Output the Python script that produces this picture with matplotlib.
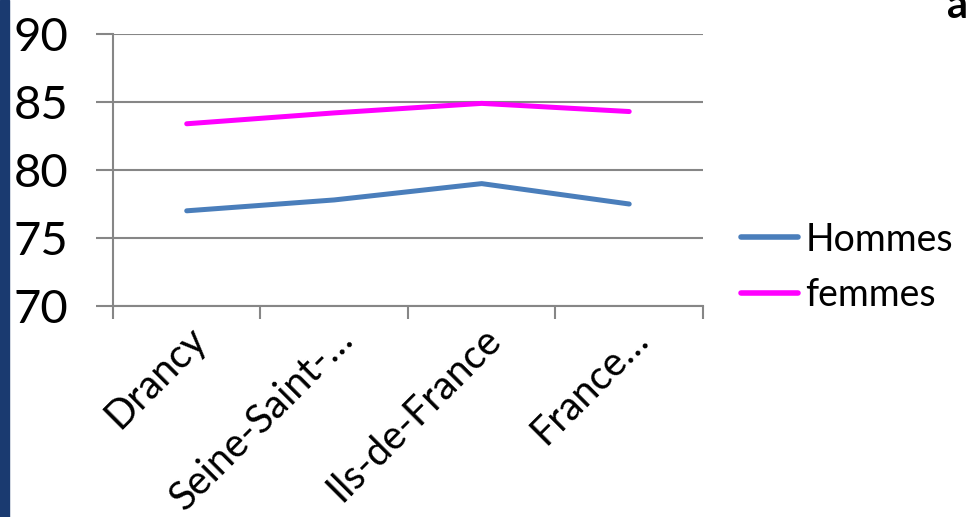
import matplotlib.pyplot as plt
from matplotlib.patches import Rectangle
import numpy as np

plt.rcParams['font.family'] = ['Lato', 'DejaVu Sans']

# data
categories = ['Drancy', 'Seine-Saint-…', 'Ils-de-France', 'France…']
hommes = [77.0, 77.8, 79.0, 77.5]
femmes = [83.4, 84.2, 84.9, 84.3]
yticks = [70, 75, 80, 85, 90]

grey = '#868686'

fig = plt.figure(figsize=(9.68, 5.17), dpi=100)
ax = fig.add_axes([0.1167, 0.4081, 0.6095, 0.5261])

x = np.arange(len(categories))
ax.plot(x, hommes, color='#4A7EBB', lw=3.6, solid_capstyle='round', label='Hommes')
ax.plot(x, femmes, color='#FF00FF', lw=3.6, solid_capstyle='round', label='femmes')

ax.set_xlim(-0.5, len(categories) - 0.5)
ax.set_ylim(70, 90)
ax.set_yticks(yticks)
ax.yaxis.grid(True, color=grey, lw=1.5)
ax.set_axisbelow(True)

# category labels in the middle, tick marks on the boundaries
ax.set_xticks(x)
ax.set_xticklabels(categories, rotation=45, ha='right', va='top',
                   rotation_mode='anchor', fontsize=28.5)
ax.set_xticks(np.arange(len(categories) + 1) - 0.5, minor=True)
ax.tick_params(axis='x', which='major', length=0, pad=10)
ax.tick_params(axis='x', which='minor', length=9, width=1.5, color=grey, direction='out')
ax.tick_params(axis='y', length=12, width=1.5, color=grey, pad=20, labelsize=34)

for s in ['top', 'right']:
    ax.spines[s].set_visible(False)
for s in ['left', 'bottom']:
    ax.spines[s].set_color(grey)
    ax.spines[s].set_linewidth(1.5)

leg = ax.legend(loc='center left', bbox_to_anchor=(0.766, 0.483), bbox_transform=fig.transFigure,
                frameon=False, fontsize=27, handlelength=1.5, handletextpad=0.2,
                labelspacing=0.52, borderpad=0, borderaxespad=0)
for h in leg.legend_handles:
    h.set_linewidth(4)

# left border bar and clipped title fragment
fig.patches.append(Rectangle((0, 0), 0.009, 1, transform=fig.transFigure,
                             color='#1A3A70', zorder=5))
fig.text(0.978, 0.965, 'a', fontsize=30, weight='bold', ha='left', va='baseline')

fig.savefig('out.png', dpi=100)
